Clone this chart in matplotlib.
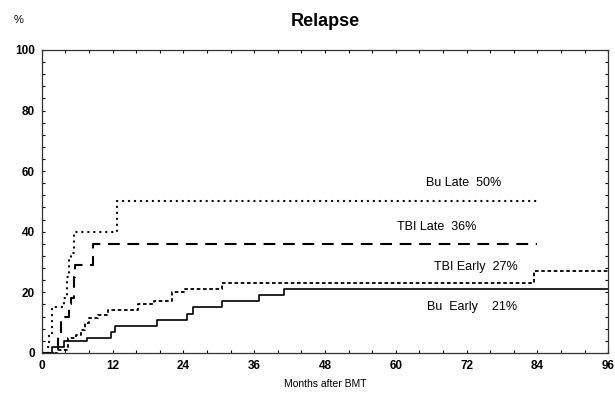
import matplotlib
matplotlib.use("Agg")
import matplotlib.pyplot as plt
from matplotlib.ticker import MultipleLocator

plt.rcParams['font.family'] = ['Liberation Sans', 'DejaVu Sans']
plt.rcParams['lines.scale_dashes'] = False

# cumulative incidence of relapse (%), step curves
bu_late_t = [0, 1.0, 1.2, 1.7, 3.8, 4.2, 4.6, 5.0, 5.5, 12.8, 84]
bu_late_v = [0, 2, 6, 15, 18, 25, 31, 33, 40, 50, 50]

tbi_late_t = [0, 2.7, 3.2, 4.6, 5.0, 5.4, 5.6, 8.7, 84]
tbi_late_v = [0, 6, 12, 16, 18, 25, 29, 36, 36]

tbi_early_t = [0, 2.8, 4.4, 5.8, 6.6, 7.3, 8.0, 9.5, 11.3, 16.3, 19.0, 22.0, 24.3, 30.5, 83.5, 96]
tbi_early_v = [0, 1, 5, 6, 7.5, 10, 11.5, 12.5, 14, 16, 17, 20, 21, 23, 27, 27]

bu_early_t = [0, 1.8, 3.7, 7.6, 11.7, 12.4, 19.6, 24.6, 25.6, 30.6, 36.8, 41.0, 96]
bu_early_v = [0, 2, 4, 5, 7, 9, 11, 13, 15, 17, 19, 21, 21]

labels = ['Bu Late  50%', 'TBI Late  36%', 'TBI Early  27%', 'Bu  Early    21%']
label_x = [71.5, 67, 73.5, 73]
label_y = [56, 41.6, 28.5, 15.3]

fig = plt.figure(figsize=(6.15, 3.93), dpi=100)
ax = fig.add_axes([0.068, 0.102, 0.921, 0.771])

ax.plot(bu_late_t, bu_late_v, drawstyle='steps-post', color='black', lw=1.6,
        dashes=(0.2, 4.1), dash_capstyle='round')
ax.plot(tbi_late_t, tbi_late_v, drawstyle='steps-post', color='black', lw=1.5, dashes=(8.5, 5.5))
ax.plot(tbi_early_t, tbi_early_v, drawstyle='steps-post', color='black', lw=1.3, dashes=(2.6, 1.9))
ax.plot(bu_early_t, bu_early_v, drawstyle='steps-post', color='black', lw=1.2)

for txt, x, y in zip(labels, label_x, label_y):
    ax.text(x, y, txt, ha='center', va='center', fontsize=9)

ax.set_xlim(0, 96)
ax.set_ylim(0, 100)
ax.xaxis.set_major_locator(MultipleLocator(12))
ax.xaxis.set_minor_locator(MultipleLocator(4))
ax.yaxis.set_major_locator(MultipleLocator(20))
ax.yaxis.set_minor_locator(MultipleLocator(4))
ax.tick_params(which='both', direction='in', top=True, right=True, length=2.5, width=0.8)
ax.tick_params(axis='both', labelsize=8.5, pad=5)
for lab in ax.get_xticklabels() + ax.get_yticklabels():
    lab.set_fontweight('bold')
for s in ax.spines.values():
    s.set_linewidth(0.9)
    s.set_color('#333333')

ax.set_xlabel('Months after BMT', fontsize=7.5, labelpad=5)
ax.set_title('Relapse', fontsize=13, fontweight='bold', pad=17)
fig.text(0.022, 0.95, '%', fontsize=8, ha='left', va='center')

fig.savefig('out.png', dpi=100)
